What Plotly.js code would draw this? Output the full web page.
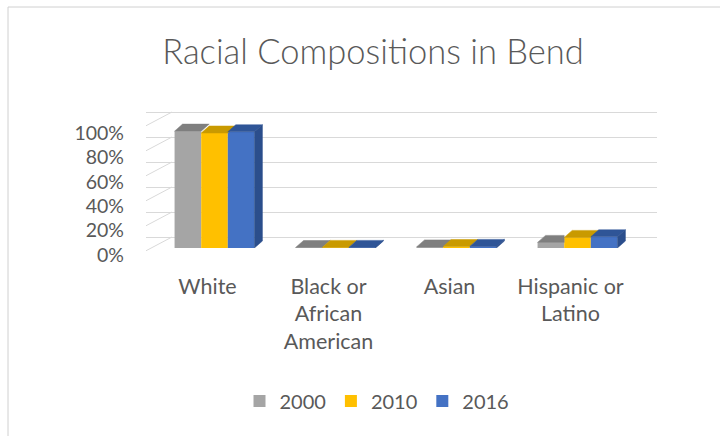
<!DOCTYPE html>
<html><head><meta charset="utf-8">
<script src="https://cdn.plot.ly/plotly-3.0.1.min.js"></script>
<style>html,body{margin:0;padding:0;background:#fff}</style>
</head><body><div id="chart" style="width:720px;height:436px"></div>
<script>
const categories = ["White", "Black or<br>African<br>American", "Asian", "Hispanic or<br>Latino"];
const seriesNames = ["2000", "2010", "2016"];
const values2000 = [0.935, 0.004, 0.009, 0.045];
const values2010 = [0.920, 0.005, 0.012, 0.085];
const values2016 = [0.930, 0.005, 0.013, 0.090];
const yTickVals = [0, 0.2, 0.4, 0.6, 0.8, 1.0];
const yTickLabels = ["0%", "20%", "40%", "60%", "80%", "100%"];

const allValues = [values2000, values2010, values2016];
const frontColors = ["#A5A5A5", "#FFC000", "#4472C4"];
const topColors = ["#7F7F7F", "#C99A00", "#2F5597"];
const sideColor = "#2B4E8C";

const W = 720, H = 436;
const px = v => v / W;
const py = v => 1 - v / H;

const bargap = 0.34;
const bw = (1 - bargap) / 3;
const dx = 0.066, dy = 0.056;
const xIdx = categories.map((c, i) => i);

const traces = [];
// invisible trace so the back-wall subplot (x/y) exists
traces.push({type: "scatter", mode: "markers", x: [0.5], y: [0.5], xaxis: "x", yaxis: "y",
  marker: {opacity: 0}, showlegend: false, hoverinfo: "skip"});
// slanted depth lines from labels to back wall (subplot x4/y)
yTickVals.forEach(v => {
  traces.push({type: "scatter", mode: "lines", x: [0, 1], y: [v - 0.11, v],
    xaxis: "x4", yaxis: "y", line: {color: "#D9D9D9", width: 1},
    showlegend: false, hoverinfo: "skip"});
});
// front faces as bars
allValues.forEach((vals, s) => {
  traces.push({type: "bar", name: seriesNames[s], x: xIdx, y: vals,
    xaxis: "x2", yaxis: "y2", marker: {color: frontColors[s], line: {width: 0}},
    hoverinfo: "skip"});
});
// top faces and side faces
allValues.forEach((vals, s) => {
  vals.forEach((v, i) => {
    const c = i + (s - 1) * bw;
    const xl = c - bw / 2, xr = c + bw / 2;
    const next = s < 2 ? allValues[s + 1][i] : null;
    let xs, ys;
    if (next !== null && next > v + 0.01) {
      xs = [xl, xr, xr, xl + dx, xl];
    } else {
      xs = [xl, xr, xr + dx, xl + dx, xl];
    }
    ys = [v, v, v + dy, v + dy, v];
    traces.push({type: "scatter", mode: "lines", x: xs, y: ys, fill: "toself",
      fillcolor: topColors[s], line: {width: 0.5, color: topColors[s]},
      xaxis: "x2", yaxis: "y2", showlegend: false, hoverinfo: "skip"});
    if (s === 2) {
      traces.push({type: "scatter", mode: "lines",
        x: [xr, xr, xr + dx, xr + dx, xr], y: [0, v, v + dy, dy, 0], fill: "toself",
        fillcolor: sideColor, line: {width: 0.5, color: sideColor},
        xaxis: "x2", yaxis: "y2", showlegend: false, hoverinfo: "skip"});
    }
  });
});
// invisible trace to carry the label axis
traces.push({type: "scatter", mode: "markers", x: [0], y: [0], xaxis: "x2", yaxis: "y3",
  marker: {opacity: 0}, showlegend: false, hoverinfo: "skip"});

const font = {family: "Lato, 'Open Sans', sans-serif", color: "#595959"};

const layout = {
  width: W, height: H,
  margin: {l: 0, r: 0, t: 0, b: 0},
  paper_bgcolor: "#ffffff", plot_bgcolor: "rgba(0,0,0,0)",
  showlegend: true,
  barmode: "group", bargap: bargap, bargroupgap: 0,
  title: {text: "Racial Compositions in Bend", x: px(373), xanchor: "center",
    y: py(52), yanchor: "middle", font: Object.assign({size: 34.5, weight: 300}, font)},
  legend: {orientation: "h", x: px(377), xanchor: "center", y: py(401), yanchor: "middle",
    font: Object.assign({size: 20}, font), itemwidth: 30, tracegroupgap: 0},
  // back wall grid
  xaxis: {domain: [px(172), px(657)], range: [0, 1], showgrid: false, zeroline: false,
    showticklabels: false, showline: false, fixedrange: true},
  yaxis: {domain: [py(252), py(110.75)], range: [-0.12, 1.01], tickvals: yTickVals,
    showgrid: true, gridcolor: "#D9D9D9", gridwidth: 1, zeroline: false,
    showticklabels: false, showline: false, fixedrange: true},
  // bars
  xaxis2: {domain: [px(154), px(638)], range: [-0.5, 3.5], anchor: "y2",
    tickvals: xIdx, ticktext: categories, showgrid: false, zeroline: false,
    showline: false, ticks: "", ticklabelstandoff: 23, ticklabelshift: -7,
    tickfont: Object.assign({size: 21.5}, font), fixedrange: true},
  yaxis2: {domain: [py(248), py(123)], range: [0, 1], showgrid: false, zeroline: false,
    showticklabels: false, showline: false, fixedrange: true},
  // tick labels axis
  yaxis3: {domain: [py(255), py(133)], range: [0, 1], anchor: "free", position: px(124),
    tickvals: yTickVals, ticktext: yTickLabels, showgrid: false, zeroline: false,
    showline: false, ticks: "", tickfont: Object.assign({size: 19.5}, font), fixedrange: true},
  xaxis4: {domain: [px(146), px(172)], range: [0, 1], anchor: "y", showgrid: false,
    zeroline: false, showticklabels: false, showline: false, fixedrange: true},
  shapes: [{type: "rect", xref: "paper", yref: "paper", x0: px(8), x1: 1.05, y0: -0.05, y1: py(7),
    line: {color: "#D0D0D0", width: 1}, layer: "below"}]
};

Plotly.newPlot("chart", traces, layout, {displayModeBar: false, staticPlot: true});
</script>
</body></html>
